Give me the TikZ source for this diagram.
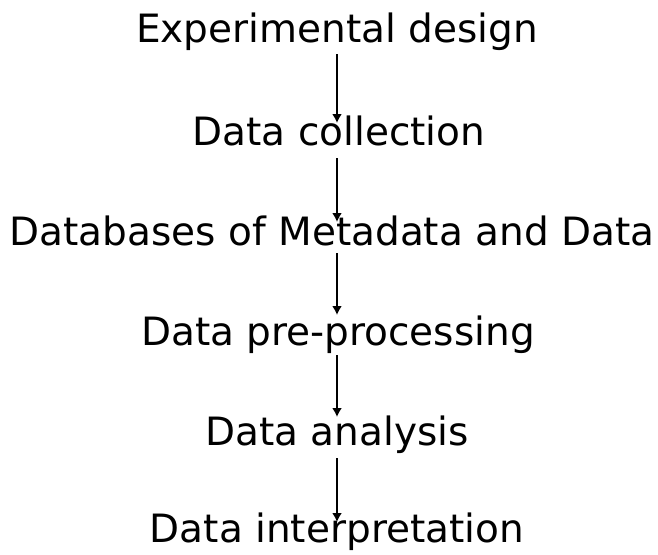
\documentclass[tikz,border=0pt]{standalone}
\usepackage{fontspec}
\setmainfont{DejaVu Sans}
\usetikzlibrary{calc,arrows.meta}
\begin{document}
\begin{tikzpicture}[x=1pt,y=-1pt,
  lbl/.style={anchor=base,inner sep=0pt,font=\fontsize{39}{41}\selectfont},
  arr/.style={line width=2.8pt,-{Latex[length=9pt,width=10pt]}}]
\useasboundingbox[fill=white] (0,0) rectangle (658,554);
\node[lbl] (n1) at (337,42) {Experimental design};
\node[lbl] (n2) at (339,145) {Data collection};
\node[lbl] (n3) at (332,245) {Databases of Metadata and Data};
\node[lbl] (n4) at (338,345) {Data pre-processing};
\node[lbl] (n5) at (337,445) {Data analysis};
\node[lbl] (n6) at (337,542) {Data interpretation};
\coordinate (ax) at (337,0);
\draw[arr] ($(n1.base -| ax)+(0,12)$) -- ($(n2.base -| ax)+(0,-22)$);
\draw[arr] ($(n2.base -| ax)+(0,13)$) -- ($(n3.base -| ax)+(0,-23)$);
\draw[arr] ($(n3.base -| ax)+(0,8)$) -- ($(n4.base -| ax)+(0,-30)$);
\draw[arr] ($(n4.base -| ax)+(0,10)$) -- ($(n5.base -| ax)+(0,-28)$);
\draw[arr] ($(n5.base -| ax)+(0,13)$) -- ($(n6.base -| ax)+(0,-20)$);
\end{tikzpicture}
\end{document}
